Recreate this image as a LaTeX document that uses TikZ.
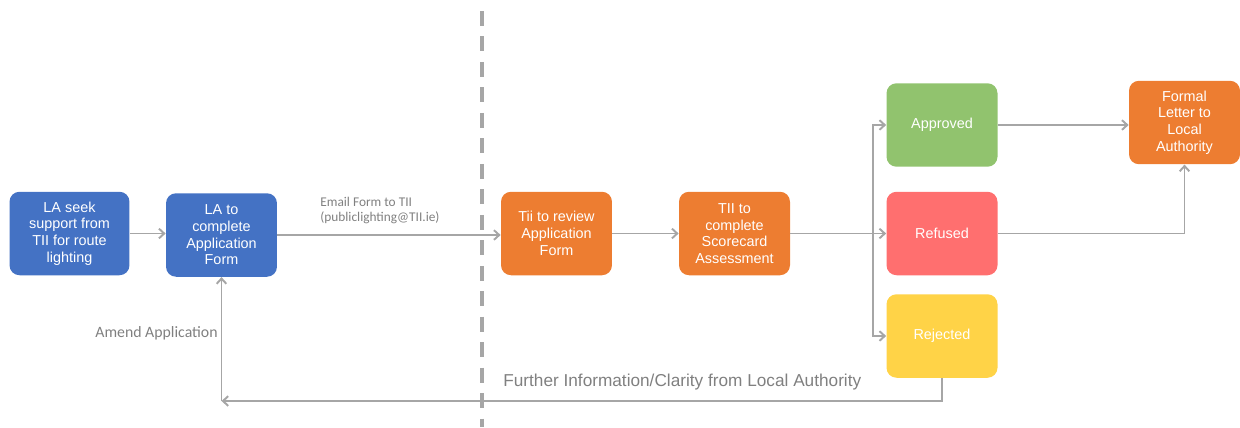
\documentclass[tikz,border=0pt]{standalone}
\usepackage{fontspec}
\setmainfont{Liberation Sans}
\newfontfamily\calibri{Carlito}
\usetikzlibrary{arrows.meta}
\definecolor{laBlue}{HTML}{4472C4}
\definecolor{tiiOrange}{HTML}{ED7D31}
\definecolor{okGreen}{HTML}{91C36E}
\definecolor{noRed}{HTML}{FF6F6F}
\definecolor{rejYellow}{HTML}{FFD347}
\definecolor{lineGray}{HTML}{A6A6A6}
\definecolor{labelGray}{HTML}{808080}
\begin{document}
\begin{tikzpicture}[x=0.02cm,y=-0.02cm,
  stepbox/.style={rounded corners=0.2cm, inner sep=2pt, align=center,
    text=white, font=\fontsize{8.2}{9.5}\selectfont,
    minimum width=2.22cm, minimum height=1.67cm},
  arr/.style={draw=lineGray, line width=1.1pt,
    -{Straight Barb[length=3pt,width=5.5pt]}},
  conn/.style={draw=lineGray, line width=1.1pt},
  lbl/.style={text=labelGray, inner sep=0pt}]
  \path[use as bounding box] (0,0) rectangle (1240,427);

  % boundary between the local authority and TII stages
  \draw[lineGray, line width=2pt, dash pattern=on 8.5pt off 6pt] (482,11) -- (482,427);

  % process steps
  \node[stepbox, fill=laBlue, minimum width=2.4cm] (seek) at (69.5,233.5)
    {LA seek\\support from\\TII for route\\lighting};
  \node[stepbox, fill=laBlue] (lacomp) at (221.5,235)
    {LA to\\complete\\Application\\Form};
  \node[stepbox, fill=tiiOrange] (review) at (556.5,233.5)
    {Tii to review\\Application\\Form};
  \node[stepbox, fill=tiiOrange] (score) at (734.5,233.5)
    {TII to\\complete\\Scorecard\\Assessment};
  \node[stepbox, fill=okGreen] (approved) at (942,125) {Approved};
  \node[stepbox, fill=noRed] (refused) at (942,233.5) {Refused};
  \node[stepbox, fill=rejYellow] (rejected) at (942,336) {Rejected};
  \node[stepbox, fill=tiiOrange] (letter) at (1184.5,122.5)
    {Formal\\Letter to\\Local\\Authority};

  % connectors
  \draw[arr] (seek.east) -- (lacomp.west |- seek.east);
  \draw[arr] (lacomp.east) -- (review.west |- lacomp.east);
  \draw[arr] (review.east) -- (score.west);
  \coordinate (split) at (873,233.5);
  \draw[arr] (score.east) -- (refused.west);
  \draw[arr] (split) |- (approved.west);
  \draw[arr] (split) |- (rejected.west);
  \draw[arr] (approved.east) -- (letter.west |- approved.east);
  \draw[arr] (refused.east) -| (letter.south);
  \coordinate (back) at (221.5,401);
  \draw[arr] (rejected.south) |- (back);
  \draw[arr] (back) -- (lacomp.south);

  % labels
  \node[lbl, anchor=north west, align=left,
    font=\calibri\fontsize{7.6}{8.6}\selectfont] (email) at (320,197)
    {Email Form to TII\\(publiclighting@TII.ie)};
  \node[lbl, anchor=base east, font=\calibri\fontsize{9}{10}\selectfont]
    (amend) at (218,337) {Amend Application};
  \node[lbl, anchor=base west, font=\fontsize{9.8}{11}\selectfont]
    (further) at (503,386) {Further Information/Clarity from Local Authority};
\end{tikzpicture}
\end{document}
